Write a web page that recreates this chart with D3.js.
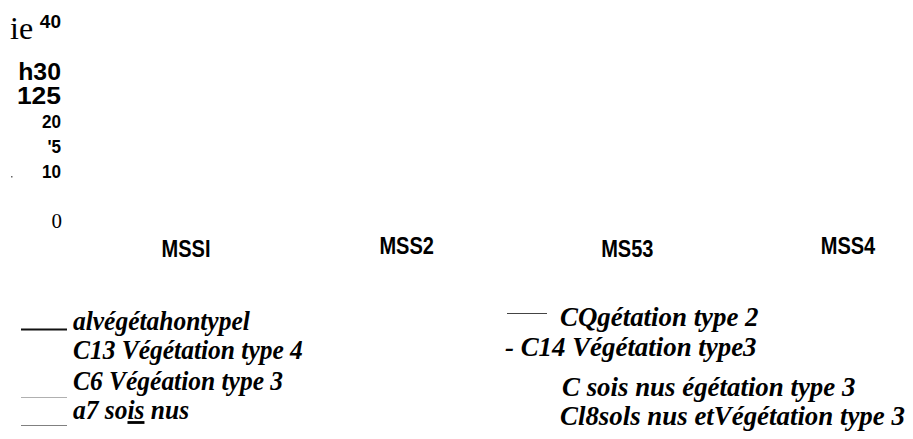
<!DOCTYPE html>
<meta charset="utf-8">
<style>
body { margin: 0; background: #fff; }
svg { display: block; background: #fff; }
.ytick text { font-family: 'Liberation Sans', Arial, sans-serif; font-weight: bold; fill: #000; }
.xlab { font-family: 'Liberation Sans Narrow', 'Liberation Sans', Arial, sans-serif; font-weight: bold; font-size: 23px; fill: #000; }
.leg text { font-family: 'Liberation Serif', 'Times New Roman', serif; font-weight: bold; font-style: italic; font-size: 28px; fill: #000; }
</style>
<svg width="913" height="439"></svg>
<script src="https://d3js.org/d3.v7.min.js"></script>
<script>
// values
var yTickValues = [0, 10, 15, 20, 25, 30, 40];
var yTickLabels = ["0", "10", "'5", "20", "125", "h30", "40"];
var categories = ["MSSI", "MSS2", "MS53", "MSS4"];
var seriesNames = [
  "alvégétahontypel",
  "C13 Végétation type 4",
  "C6 Végéation type 3",
  "a7 sois nus",
  "CQgétation type 2",
  "- C14 Végétation type3",
  "C sois nus égétation type 3",
  "Cl8sols nus etVégétation type 3"
];
var seriesColors = ["#111", null, "#b0b0b0", "#808080", "#444", null, "#333", "#444"];

var svg = d3.select("svg");

var y = d3.scaleLinear().domain([0, 40]).range([220, 21]);
var x = d3.scalePoint().domain(categories).range([186, 848]);

// y axis, labels only
var yAxis = svg.append("g")
    .attr("class", "ytick")
    .attr("transform", "translate(61,0)")
    .call(d3.axisLeft(y)
      .tickValues(yTickValues)
      .tickSize(0)
      .tickPadding(0)
      .tickFormat(function(d) { return yTickLabels[yTickValues.indexOf(d)]; }));
yAxis.select(".domain").remove();

// each label came out at its own size
var tickStyle = {
  40: {size: 19, sx: 1},
  30: {size: 23, sx: 1.08},
  25: {size: 23, sx: 1.15},
  20: {size: 19, sx: 0.9},
  15: {size: 19, sx: 0.9},
  10: {size: 19, sx: 0.9},
  0:  {size: 21, sx: 1}
};
yAxis.selectAll(".tick text")
    .attr("x", 0)
    .attr("dy", "0.36em")
    .style("font-size", function(d) { return tickStyle[d].size + "px"; })
    .attr("transform", function(d) { return "scale(" + tickStyle[d].sx + ",1)"; })
    .filter(function(d) { return d === 0; })
    .style("font-family", "'Liberation Serif', serif")
    .style("font-weight", "normal")
    .attr("x", 1);

// stray marks left of the axis
svg.append("text")
    .attr("x", 10).attr("y", 39)
    .style("font-family", "'Liberation Serif', serif")
    .style("font-size", "32px")
    .text("ie");
svg.append("rect")
    .attr("x", 11).attr("y", 176).attr("width", 1.5).attr("height", 1.5)
    .attr("fill", "#666");

// category labels
var xShift = [1, -2, 1, -2];
svg.selectAll(".xlab")
    .data(categories)
  .enter().append("text")
    .attr("class", "xlab")
    .attr("text-anchor", "middle")
    .attr("transform", function(d, i) { return "translate(" + x(d) + "," + (256 + xShift[i]) + ") scale(0.87,1)"; })
    .text(function(d) { return d; });

// legend, two columns of four
var legLayout = [
  {tx: 73, ty: 330, sx: 0.91, ly: 329.5, lx1: 21, lx2: 67},
  {tx: 73, ty: 359, sx: 0.91, ly: null},
  {tx: 73, ty: 390, sx: 0.91, ly: 397.5, lx1: 21, lx2: 67},
  {tx: 73, ty: 419, sx: 0.91, ly: 425.5, lx1: 21, lx2: 67},
  {tx: 560, ty: 326, sx: 0.96, ly: 313.5, lx1: 507, lx2: 547},
  {tx: 505, ty: 356, sx: 0.96, ly: null},
  {tx: 562, ty: 396, sx: 0.96, ly: 380.5, lx1: 509, lx2: 550},
  {tx: 560, ty: 425, sx: 0.96, ly: 408.5, lx1: 509, lx2: 550}
];

var leg = svg.append("g").attr("class", "leg");
var item = leg.selectAll("g")
    .data(seriesNames)
  .enter().append("g");

item.filter(function(d, i) { return seriesColors[i]; })
  .append("line")
    .attr("x1", function(d, i) { return legLayout[i].lx1; })
    .attr("x2", function(d, i) { return legLayout[i].lx2; })
    .attr("y1", function(d, i) { return legLayout[i].ly; })
    .attr("y2", function(d, i) { return legLayout[i].ly; })
    .attr("stroke", function(d, i) { return seriesColors[i]; })
    .attr("stroke-width", function(d, i) { return i === 0 ? 1.8 : 1; });

item.append("text")
    .attr("transform", function(d, i) {
      var l = legLayout[i];
      return "translate(" + l.tx + "," + l.ty + ") scale(" + l.sx + ",1)";
    })
    .each(function(d) {
      var t = d3.select(this);
      if (d === "a7 sois nus") {
        t.append("tspan").text("a7 so");
        t.append("tspan").style("text-decoration", "underline").text("is");
        t.append("tspan").text(" nus");
      } else {
        t.text(d);
      }
    });
</script>
